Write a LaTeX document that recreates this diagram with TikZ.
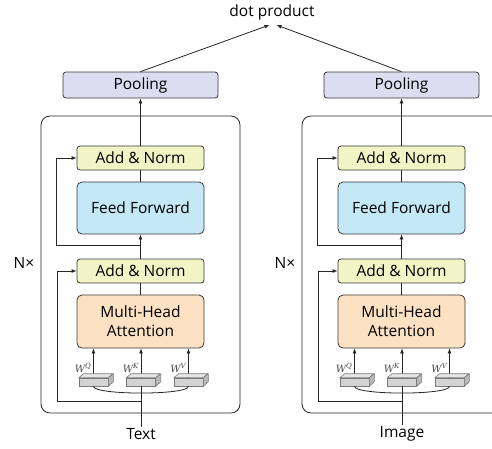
\documentclass[tikz,border=0pt]{standalone}
\usepackage{fontspec}
\setmainfont{Open Sans}
\newfontfamily\wfont{DejaVu Serif}
\usetikzlibrary{arrows.meta}
\definecolor{poolc}{HTML}{DCDDF0}
\definecolor{anc}{HTML}{F1F4C4}
\definecolor{ffc}{HTML}{C5E8F6}
\definecolor{mhac}{HTML}{FCE1C2}
\definecolor{edgec}{HTML}{383838}
\definecolor{wfront}{HTML}{D3D3D3}
\definecolor{wtop}{HTML}{E6E6E6}
\definecolor{wside}{HTML}{B8B8B8}
\definecolor{wedge}{HTML}{7A7A7A}
\definecolor{wlabc}{HTML}{4A4A4A}
\newcommand{\wlabel}[1]{W\raisebox{4.5pt}{\fontsize{7}{7}\selectfont #1}}
\begin{document}
\begin{tikzpicture}[x=1pt,y=-1pt,
  box/.style={draw=edgec, line width=0.8pt, rounded corners=3pt, minimum width=127pt,
    inner sep=0pt, font=\fontsize{15.5}{19}\selectfont, align=center},
  bigbox/.style={box, rounded corners=5pt},
  wbox/.style={draw=wedge, fill=wfront, line width=0.6pt, minimum width=29pt, minimum height=8pt, inner sep=0pt},
  wface/.style={draw=wedge, line width=0.6pt, line join=round},
  wlab/.style={text=wlabc, font=\fontsize{10}{10}\wfont\itshape, inner sep=0pt, anchor=base east},
  arr/.style={-{Latex[length=5pt,width=4pt]}, line width=0.8pt, draw=black!85},
  ln/.style={line width=0.8pt, draw=black!85},
  lbl/.style={font=\fontsize{15.5}{19}\selectfont, inner sep=1pt}]
\useasboundingbox (0,0) rectangle (492,448);
\node[lbl] (dp) at (272,12) {dot product};
\coordinate (tipL) at (269.5,25);
\coordinate (tipR) at (276.5,25);
\foreach \ox/\s/\lab in {0/L/Text, 261/R/Image}{
\begin{scope}[xshift=\ox pt]
  \draw[ln, rounded corners=9pt] (41,116) rectangle (240,413);
  \node[lbl] (n\s) at (24,263) {N×};
  \node[box, fill=poolc, minimum width=155pt, minimum height=26pt] (pool\s) at (140.5,85) {Pooling};
  \node[box, fill=anc, minimum height=24pt] (an2\s) at (140.5,158) {Add \& Norm};
  \node[bigbox, fill=ffc, minimum height=52pt] (ff\s) at (140.5,208) {Feed Forward};
  \node[box, fill=anc, minimum height=24pt] (an1\s) at (140.5,271) {Add \& Norm};
  \node[bigbox, fill=mhac, minimum height=53pt] (mha\s) at (140.5,321.5) {Multi-Head\\Attention};
  \node[lbl] (txt\s) at (141,434) {\lab};
  \node[wbox] (w1\s) at (93.5,382) {};
  \node[wbox] (w2\s) at (141,382) {};
  \node[wbox] (w3\s) at (188.5,382) {};
  \node[wlab] (l1\s) at (91,372.5) {\wlabel{Q}};
  \node[wlab] (l2\s) at (138.5,372.5) {\wlabel{K}};
  \node[wlab] (l3\s) at (186,372.5) {\wlabel{V}};
  \coordinate (s1\s) at (141,401);
  \coordinate (k1\s) at (57,271);
  \coordinate (s2\s) at (141,245);
  \coordinate (k2\s) at (56,158);
  % connectors
  \draw[ln] (txt\s.north) -- (w2\s.south);
  \draw[ln] (w1\s.south) .. controls +(0,9) and +(0,9) .. (w3\s.south);
  \draw[arr] (s1\s) -| (k1\s) -- (an1\s.west);
  \draw[arr] (s2\s) -| (k2\s) -- (an2\s.west);
  \draw[arr] (w1\s.north) -- (w1\s.north |- mha\s.south);
  \draw[arr] (w2\s.north) -- (w2\s.north |- mha\s.south);
  \draw[arr] (w3\s.north) -- (w3\s.north |- mha\s.south);
  \draw[ln] (mha\s.north) -- (an1\s.south);
  \draw[arr] (an1\s.north) -- (ff\s.south);
  \draw[ln] (ff\s.north) -- (an2\s.south);
  \draw[arr] (an2\s.north) -- (pool\s.south);
  % 3D faces of weight boxes
  \foreach \w in {w1\s,w2\s,w3\s}{
    \draw[wface, fill=wtop] (\w.north west) -- ++(5,-4) -- ++(29,0) -- (\w.north east) -- cycle;
    \draw[wface, fill=wside] (\w.north east) -- ++(5,-4) -- ++(0,8) -- (\w.south east) -- cycle;
  }
\end{scope}
}
\draw[arr] (poolL.north) -- (tipL);
\draw[arr] (poolR.north) -- (tipR);
\end{tikzpicture}
\end{document}
